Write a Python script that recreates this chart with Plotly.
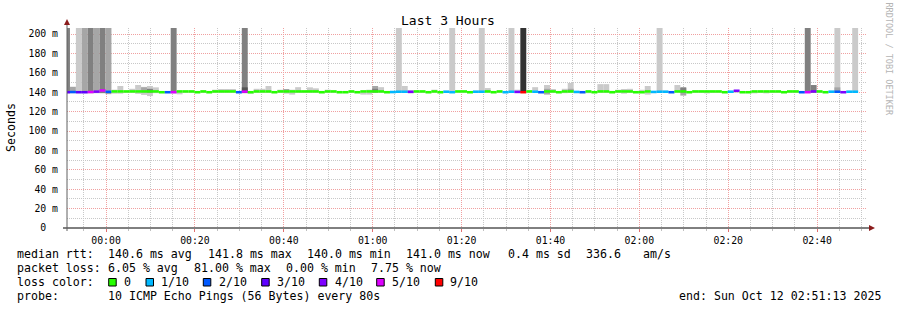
import plotly.graph_objects as go
import pandas as pd

# ---------------- data (one entry per 80 s step, first step starts 23:50:33) ----------------
first_step_start = "2025-10-11 23:50:33"
step_seconds = 80
range_start = "2025-10-11 23:51:13"
range_end = "2025-10-12 02:51:13"

loss = [3, 2, 3, 3, 5, 4, 5, 2, 0, 0,
        0, 0, 0, 0, 0, 0, 0, 2, 5, 0,
        0, 0, 0, 0, 0, 0, 0, 0, 0, 2,
        5, 0, 0, 0, 0, 0, 0, 0, 0, 0,
        0, 0, 0, 0, 0, 0, 0, 0, 0, 0,
        0, 0, 0, 0, 0, 1, 1, 1, 4, 0,
        0, 0, 0, 0, 1, 1, 0, 0, 0, 1,
        1, 0, 0, 0, 1, 1, 4, 9, 0, 1,
        2, 0, 0, 0, 0, 0, 1, 2, 0, 0,
        0, 0, 0, 0, 0, 0, 0, 0, 0, 1,
        1, 1, 2, 0, 0, 0, 0, 0, 0, 0,
        0, 0, 1, 4, 0, 0, 0, 0, 0, 0,
        0, 0, 0, 0, 2, 5, 4, 0, 0, 1,
        2, 4, 1, 1]

median_ms = [140.0, 140.2, 140.0, 140.0, 140.2, 140.6, 141.8, 140.4, 140.8, 140.8,
             140.8, 140.8, 140.8, 140.8, 140.8, 140.8, 140.0, 140.0, 140.0, 140.8,
             140.8, 140.8, 140.0, 140.8, 140.0, 140.8, 140.8, 140.8, 140.8, 140.0,
             140.6, 140.0, 140.8, 140.8, 140.8, 140.0, 140.8, 140.8, 140.8, 140.8,
             140.8, 140.8, 140.8, 140.0, 140.8, 140.8, 140.0, 140.0, 140.8, 140.0,
             140.8, 140.8, 140.8, 140.8, 140.0, 140.2, 140.5, 140.5, 140.4, 140.8,
             140.8, 140.0, 140.8, 140.0, 140.5, 140.0, 140.8, 140.8, 140.0, 140.5,
             140.5, 140.8, 140.0, 140.8, 140.0, 140.5, 140.3, 140.0, 140.8, 140.5,
             140.0, 140.8, 140.8, 140.0, 140.8, 140.8, 140.3, 140.0, 140.8, 140.0,
             140.8, 140.8, 140.0, 140.8, 140.8, 140.8, 140.0, 140.0, 140.8, 140.3,
             140.5, 140.5, 140.0, 140.8, 140.8, 140.0, 140.8, 140.8, 140.8, 140.8,
             140.8, 140.0, 140.5, 141.5, 140.0, 140.0, 140.8, 140.8, 140.8, 140.8,
             140.8, 140.0, 140.8, 140.8, 140.0, 140.0, 140.8, 140.8, 140.0, 140.5,
             140.5, 140.0, 140.5, 140.5]

smoke_hi = [215, 145.6, 215, 215, 215, 215, 215, 215, 142.6, 146.4,
            141.6, 143.5, 147.4, 145.5, 146.4, 145.0, 141.2, 141.2, 215, 141.6,
            141.6, 141.6, 141.2, 141.8, 141.2, 142.6, 143.3, 143.3, 143.3, 141.2,
            215, 141.2, 143.5, 143.5, 146.4, 141.2, 142.6, 143.3, 142.6, 145.2,
            141.6, 145.0, 144.0, 141.2, 142.6, 141.6, 141.2, 141.2, 141.6, 141.2,
            141.6, 142.6, 146.4, 145.2, 141.2, 141.2, 215, 146.4, 141.8, 141.6,
            141.6, 141.2, 142.6, 141.2, 141.6, 215, 141.6, 141.6, 141.2, 141.6,
            215, 144.3, 141.2, 141.6, 141.2, 215, 142.6, 215, 141.6, 145.2,
            141.2, 147.4, 143.3, 141.2, 143.5, 149.5, 141.2, 141.2, 141.6, 141.2,
            148.3, 148.3, 141.2, 142.5, 143.3, 143.5, 141.2, 142.5, 146.4, 141.2,
            215, 141.6, 141.2, 147.4, 145.4, 141.2, 141.6, 141.6, 141.6, 141.6,
            141.6, 141.2, 141.6, 142.0, 141.2, 141.2, 141.6, 141.6, 141.6, 141.6,
            141.6, 141.2, 141.6, 141.6, 141.2, 215, 147.4, 141.6, 141.2, 141.6,
            215, 141.2, 141.6, 215]

smoke_lo = [139.0, 139.0, 139.0, 139.0, 139.0, 139.0, 139.0, 138.0, 138.5, 138.5,
            139.4, 139.4, 138.3, 137.2, 136.0, 139.0, 139.0, 139.0, 139.0, 137.8,
            139.4, 139.4, 139.0, 139.4, 139.0, 139.4, 139.4, 139.4, 139.4, 139.0,
            139.0, 138.5, 139.4, 139.4, 139.4, 139.0, 139.4, 138.5, 137.5, 139.4,
            139.4, 139.4, 139.4, 139.0, 139.4, 139.4, 139.0, 139.0, 139.4, 139.0,
            137.5, 137.5, 139.4, 139.4, 139.0, 139.0, 139.4, 139.4, 139.0, 139.4,
            139.4, 139.0, 139.4, 139.0, 139.4, 139.4, 139.4, 139.4, 139.0, 139.4,
            139.4, 139.4, 139.0, 139.4, 139.0, 139.4, 139.4, 139.4, 139.4, 139.4,
            139.0, 137.5, 139.4, 139.0, 139.0, 139.4, 139.0, 139.0, 139.0, 139.0,
            139.4, 139.4, 139.0, 139.4, 138.5, 139.4, 139.0, 139.0, 137.5, 139.0,
            139.4, 139.4, 139.0, 139.4, 136.5, 139.0, 139.4, 139.4, 138.8, 139.4,
            139.4, 139.0, 139.4, 139.4, 139.0, 139.0, 138.8, 139.4, 138.8, 139.4,
            139.4, 139.0, 139.4, 139.4, 139.0, 139.4, 139.4, 139.4, 139.0, 139.4,
            139.4, 139.0, 139.4, 139.4]

smoke_shade = [3, 2, 1, 2, 3, 2, 3, 2, 1, 1,
               1, 1, 1, 1, 1, 1, 1, 1, 3, 1,
               1, 1, 1, 1, 1, 1, 1, 1, 1, 1,
               3, 1, 1, 1, 1, 1, 1, 1, 1, 1,
               1, 1, 1, 1, 1, 1, 1, 1, 1, 1,
               1, 1, 2, 1, 1, 1, 1, 1, 2, 1,
               1, 1, 1, 1, 1, 1, 1, 1, 1, 1,
               1, 1, 1, 1, 1, 1, 1, 4, 1, 1,
               1, 1, 1, 1, 1, 1, 1, 1, 1, 1,
               1, 1, 1, 1, 1, 1, 1, 1, 1, 1,
               1, 1, 1, 1, 2, 1, 1, 1, 1, 1,
               1, 1, 1, 1, 1, 1, 1, 1, 1, 1,
               1, 1, 1, 1, 1, 3, 3, 1, 1, 1,
               1, 1, 1, 1]

# inner (darker) smoke layers, indexed by step position in the lists above
inner_index = [13, 14, 30, 37, 52, 81, 85, 104, 130]
inner_lo = [139.5, 139.5, 139.5, 140.0, 140.0, 137.8, 140.0, 139.5, 139.5]
inner_hi = [145.0, 143.5, 145.0, 143.3, 143.5, 143.5, 143.5, 144.3, 145.0]
inner_shade = [2, 3, 5, 2, 3, 2, 2, 3, 2]

loss_levels = [0, 1, 2, 3, 4, 5, 9]
loss_labels = ["0", "1/10", "2/10", "3/10", "4/10", "5/10", "9/10"]
loss_colors = ["#26ff00", "#00b8ff", "#0059ff", "#5e00ff", "#7e00ff", "#dd00ff", "#ff0000"]

y_tick_vals = [0, 20, 40, 60, 80, 100, 120, 140, 160, 180, 200]
y_tick_text = ["0\u00a0\u00a0", "20 m", "40 m", "60 m", "80 m", "100 m", "120 m",
               "140 m", "160 m", "180 m", "200 m"]

stats_rtt = [("median rtt:", 16), ("140.6 ms avg", 107), ("141.8 ms max", 207),
             ("140.0 ms min", 306), ("141.0 ms now", 405.5), ("0.4 ms sd", 507),
             ("336.6", 585.5), ("am/s", 642)]
stats_loss = [("packet loss:", 16), ("6.05 % avg", 107), ("81.00 % max", 193),
              ("0.00 % min", 285.5), ("7.75 % now", 370)]
probe_text = "10 ICMP Echo Pings (56 Bytes) every 80s"
end_text = "end: Sun Oct 12 02:51:13 2025"

# ---------------- styling ----------------
SHADES = {1: "#cacaca", 2: "#a6a6a6", 3: "#808080", 4: "#333333", 5: "#555555"}
MONO = "DejaVu Sans Mono"
PL, PR, PT, PB = 67, 867, 28, 228  # plot area in pixels


def xp(px):
    return (px - PL) / (PR - PL)


def yp(py):
    return (PB - py) / (PB - PT)


def loss_color(n):
    c = loss_colors[0]
    for lv, col in zip(loss_levels, loss_colors):
        if n >= lv:
            c = col
    return c


t0 = pd.Timestamp(first_step_start)
centers = [t0 + pd.Timedelta(seconds=step_seconds * i + step_seconds / 2) for i in range(len(loss))]
bar_w = step_seconds * 1000

fig = go.Figure()

fig.add_trace(go.Bar(
    x=centers, base=smoke_lo, y=[h - l for h, l in zip(smoke_hi, smoke_lo)],
    width=bar_w, marker=dict(color=[SHADES[s] for s in smoke_shade], line=dict(width=0)),
    hoverinfo="skip"))

fig.add_trace(go.Bar(
    x=[centers[i] for i in inner_index], base=inner_lo,
    y=[h - l for h, l in zip(inner_hi, inner_lo)],
    width=bar_w, marker=dict(color=[SHADES[s] for s in inner_shade], line=dict(width=0)),
    hoverinfo="skip"))

med_thick = 2.6
fig.add_trace(go.Bar(
    x=centers, base=[m - med_thick / 2 for m in median_ms], y=[med_thick] * len(median_ms),
    width=bar_w, marker=dict(color=[loss_color(n) for n in loss], line=dict(width=0)),
    hoverinfo="skip"))

MGRID = "#f0a0a0"
GRID = "#c8c8c8"

fig.update_layout(
    width=897, height=310,
    margin=dict(l=PL, r=897 - PR, t=PT, b=310 - PB, pad=0),
    paper_bgcolor="white", plot_bgcolor="white",
    barmode="overlay", showlegend=False,
    font=dict(family=MONO, size=10, color="black"),
    title=dict(text="Last 3 Hours", x=448 / 897, xanchor="center", y=1 - 20 / 310,
               yanchor="middle", font=dict(family=MONO, size=13, color="black")),
    xaxis=dict(
        type="date", range=[range_start, range_end],
        tickformat="%H:%M", tick0="2025-10-12 00:00:00", dtick=1200000,
        showgrid=True, gridcolor=MGRID, griddash="1px,1px", gridwidth=1,
        ticks="outside", ticklen=3, tickcolor="#e07070",
        minor=dict(tick0="2025-10-12 00:00:00", dtick=300000, showgrid=True,
                   gridcolor=GRID, griddash="1px,1px", gridwidth=1,
                   ticks="outside", ticklen=2, tickcolor="#c0c0c0"),
        showline=False, zeroline=False,
        tickfont=dict(family=MONO, size=9.8, color="black"),
    ),
    yaxis=dict(
        range=[0, 206.2], tickmode="array", tickvals=y_tick_vals, ticktext=y_tick_text,
        showgrid=True, gridcolor=MGRID, griddash="1px,1px", gridwidth=1,
        minor=dict(tick0=0, dtick=10, showgrid=True, gridcolor=GRID,
                   griddash="1px,1px", gridwidth=1),
        ticks="", ticklabelstandoff=8,
        showline=False, zeroline=False,
        tickfont=dict(family=MONO, size=9.8, color="black"),
    ),
)

shapes = []
# axis lines
shapes.append(dict(type="line", xref="paper", yref="paper", x0=xp(63), x1=xp(869),
                   y0=yp(228), y1=yp(228), line=dict(color="black", width=1)))
shapes.append(dict(type="line", xref="paper", yref="paper", x0=xp(67), x1=xp(67),
                   y0=yp(231), y1=yp(23), line=dict(color="#606060", width=1)))
# arrows
shapes.append(dict(type="path", xref="paper", yref="paper",
                   path=f"M {xp(869)},{yp(225)} L {xp(875)},{yp(228)} L {xp(869)},{yp(231)} Z",
                   fillcolor="#8b1c1c", line=dict(width=0)))
shapes.append(dict(type="path", xref="paper", yref="paper",
                   path=f"M {xp(64)},{yp(25)} L {xp(67)},{yp(19)} L {xp(70)},{yp(25)} Z",
                   fillcolor="#8b1c1c", line=dict(width=0)))

annotations = []


def txt(s, x, y, **kw):
    d = dict(text=s, x=xp(x), y=yp(y), xref="paper", yref="paper", showarrow=False,
             xanchor="left", yanchor="middle", borderpad=0,
             font=dict(family=MONO, size=11.6, color="black"))
    d.update(kw)
    annotations.append(d)


for s, x in stats_rtt:
    txt(s, x - 0.5, 254)
for s, x in stats_loss:
    txt(s, x - 0.5, 268.3)
txt("loss color:", 15.5, 282.3)
box_x = [108.7, 146, 203.3, 261.7, 319.3, 376.7, 435.3]
lab_x = [123, 159.5, 218, 275.5, 333.5, 391.2, 448.5]
for bx, lx, col, lab in zip(box_x, lab_x, loss_colors, loss_labels):
    shapes.append(dict(type="rect", xref="paper", yref="paper", x0=xp(bx), x1=xp(bx + 7.5),
                       y0=yp(278.5), y1=yp(286), fillcolor=col,
                       line=dict(color="black", width=1)))
    txt(lab, lx, 282.3)
txt("probe:", 15.5, 296.3)
txt(probe_text, 106.5, 296.3)
txt(end_text, 677.5, 296.3)

annotations.append(dict(text="Seconds", x=xp(11), y=yp(127), xref="paper", yref="paper",
                        showarrow=False, textangle=-90, xanchor="center", yanchor="middle",
                        font=dict(family=MONO, size=11.6, color="black")))
annotations.append(dict(text="RRDTOOL / TOBI OETIKER", x=xp(888.5), y=yp(59), xref="paper",
                        yref="paper", showarrow=False, textangle=90, xanchor="center",
                        yanchor="middle", font=dict(family=MONO, size=8.5, color="#b4b4b4")))

fig.update_layout(shapes=shapes, annotations=annotations)

fig.write_html("out.html")
